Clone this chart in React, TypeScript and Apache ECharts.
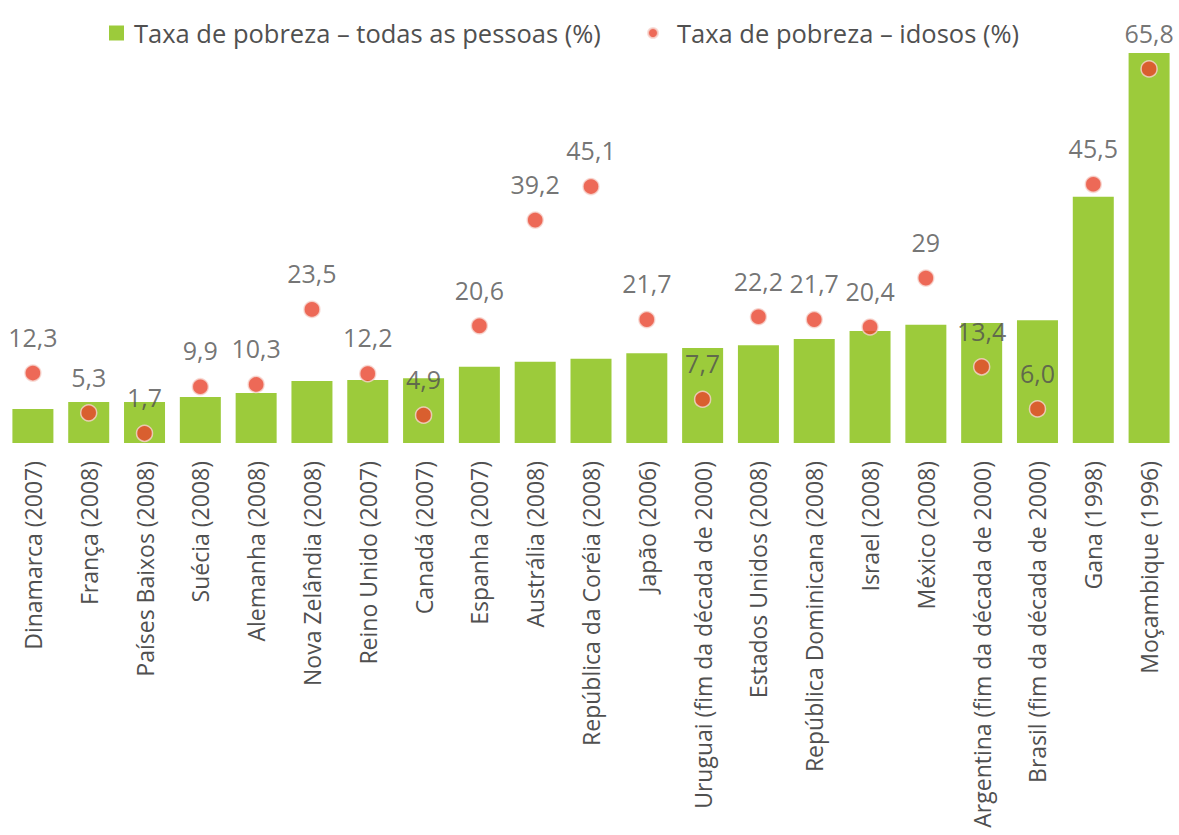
import React, { useEffect, useRef } from "react";
import * as echarts from "echarts";

const categories = [
  "Dinamarca (2007)",
  "França (2008)",
  "Países Baixos (2008)",
  "Suécia (2008)",
  "Alemanha (2008)",
  "Nova Zelândia (2008)",
  "Reino Unido (2007)",
  "Canadá (2007)",
  "Espanha (2007)",
  "Austrália (2008)",
  "República da Coréia (2008)",
  "Japão (2006)",
  "Uruguai (fim da década de 2000)",
  "Estados Unidos (2008)",
  "República Dominicana (2008)",
  "Israel (2008)",
  "México (2008)",
  "Argentina (fim da década de 2000)",
  "Brasil (fim da década de 2000)",
  "Gana (1998)",
  "Moçambique (1996)",
];

const allPeople = [6.0, 7.2, 7.2, 8.1, 8.8, 10.9, 11.1, 11.4, 13.4, 14.3, 14.8, 15.8, 16.7, 17.2, 18.3, 19.7, 20.8, 21.1, 21.6, 43.3, 68.6];

const elderly = [12.3, 5.3, 1.7, 9.9, 10.3, 23.5, 12.2, 4.9, 20.6, 39.2, 45.1, 21.7, 7.7, 22.2, 21.7, 20.4, 29, 13.4, 6.0, 45.5, 65.8];

const elderlyLabels = ["12,3", "5,3", "1,7", "9,9", "10,3", "23,5", "12,2", "4,9", "20,6", "39,2", "45,1", "21,7", "7,7", "22,2", "21,7", "20,4", "29", "13,4", "6,0", "45,5", "65,8"];

const seriesNames = ["Taxa de pobreza – todas as pessoas (%)", "Taxa de pobreza – idosos (%)"];

const GREEN = "#9CCB3B";
const RED = "#E8432D";
const TEXT = "#505050";
const FONT = "'Open Sans', 'Noto Sans', sans-serif";

export default function App() {
  const ref = useRef<HTMLDivElement>(null);
  useEffect(() => {
    if (!ref.current) return;
    const chart = echarts.init(ref.current, null, { renderer: "svg" });
    chart.setOption({
      animation: false,
      backgroundColor: "#ffffff",
      textStyle: { fontFamily: FONT },
      legend: [
        {
          top: 15,
          left: 104,
          itemWidth: 15,
          itemHeight: 15,
          textStyle: { fontSize: 25.5, color: TEXT, fontFamily: FONT, padding: [0, 0, 0, 5] },
          data: [{ name: seriesNames[0], icon: "rect" }],
        },
        {
          top: 15,
          left: 642,
          itemWidth: 10,
          itemHeight: 10,
          textStyle: { fontSize: 25.5, color: TEXT, fontFamily: FONT, padding: [0, 0, 0, 14] },
          data: [{ name: seriesNames[1], icon: "circle" }],
        },
      ],
      grid: { left: 5, right: 2, top: 45, bottom: 392, containLabel: false },
      xAxis: {
        type: "category",
        data: categories,
        axisLine: { show: false },
        axisTick: { show: false },
        axisLabel: {
          interval: 0,
          rotate: 90,
          margin: 18,
          fontSize: 23,
          color: TEXT,
          fontFamily: FONT,
        },
      },
      yAxis: {
        type: "value",
        min: 0,
        max: 70,
        show: false,
        splitLine: { show: false },
      },
      series: [
        {
          name: seriesNames[0],
          type: "bar",
          data: allPeople,
          barWidth: 41,
          itemStyle: { color: GREEN },
          z: 2,
        },
        {
          name: seriesNames[1],
          type: "scatter",
          data: elderly,
          symbol: "circle",
          symbolSize: 16,
          itemStyle: { color: RED, borderColor: "#f6d6cf", borderWidth: 1.5 },
          label: {
            show: true,
            position: "top",
            distance: 15,
            fontSize: 25,
            color: TEXT,
            fontFamily: FONT,
            formatter: (p: any) => elderlyLabels[p.dataIndex],
          },
          z: 3,
        },
      ],
    });
    return () => chart.dispose();
  }, []);
  return (
    <div
      ref={ref}
      style={{ position: "fixed", left: 0, top: 0, width: 1179, height: 835 }}
    />
  );
}
